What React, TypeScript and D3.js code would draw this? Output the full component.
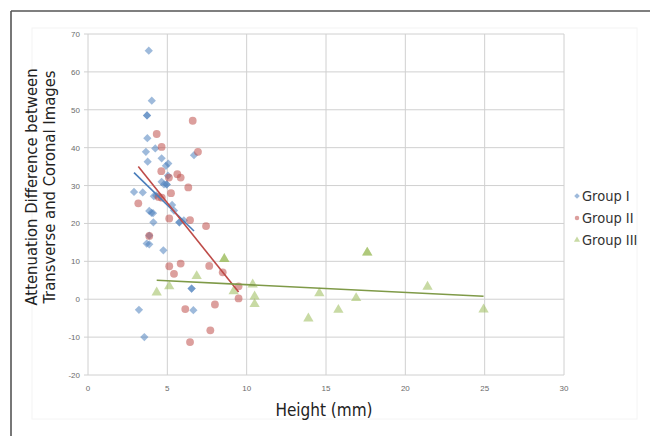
import React, { useEffect, useRef } from 'react'
import * as d3 from 'd3'

const xTicks = [0, 5, 10, 15, 20, 25, 30]
const yTicks = [-20, -10, 0, 10, 20, 30, 40, 50, 60, 70]
const groupNames = ['Group I', 'Group II', 'Group III']

// [height mm, attenuation difference]
const groupI = [
  [3.83, 65.6], [4.02, 52.4], [3.72, 48.5], [3.72, 48.5], [3.74, 42.5], [3.65, 38.9],
  [4.24, 39.8], [3.76, 36.3], [4.64, 37.2], [5.06, 35.8], [4.91, 35.2], [6.68, 38.0],
  [4.64, 31.0], [4.79, 30.3], [4.96, 30.3], [4.96, 30.3], [5.04, 32.6], [2.9, 28.3],
  [3.45, 28.2], [4.15, 27.2], [4.3, 27.4], [3.86, 23.3], [4.0, 22.8], [4.1, 22.7],
  [5.3, 24.9], [5.42, 23.4], [5.76, 20.3], [5.76, 20.3], [6.04, 20.8], [4.12, 20.3],
  [3.86, 16.8], [3.7, 14.7], [3.86, 14.5], [4.75, 12.9], [6.53, 2.8], [6.53, 2.8],
  [6.64, -2.9], [3.21, -2.8], [3.55, -10.0],
]
const groupII = [
  [4.33, 43.6], [4.64, 40.2], [4.62, 33.8], [5.1, 32.1], [5.63, 33.0], [5.84, 32.1],
  [6.32, 29.5], [6.6, 47.1], [6.93, 38.9], [5.23, 28.0], [4.45, 27.0], [4.65, 26.8],
  [3.17, 25.3], [5.12, 21.3], [6.43, 20.9], [7.44, 19.3], [3.86, 16.7], [5.12, 8.7],
  [5.84, 9.4], [5.42, 6.7], [7.64, 8.8], [8.49, 7.1], [9.49, 3.4], [9.49, 0.2],
  [8.0, -1.4], [6.13, -2.6], [7.71, -8.2], [6.43, -11.3],
]
const groupIII = [
  [4.33, 1.8], [5.12, 3.4], [6.85, 6.1], [8.59, 10.6], [8.59, 10.6], [9.18, 2.1],
  [10.38, 3.9], [10.5, 0.7], [10.5, -1.3], [13.89, -5.1], [14.58, 1.6], [15.78, -2.8],
  [16.9, 0.3], [17.6, 12.3], [17.6, 12.3], [21.4, 3.3], [24.93, -2.7],
]
// linear trend lines as shown in the chart
const trendI = [[2.9, 33.4], [6.68, 18.0]]
const trendII = [[3.17, 35.0], [9.49, 1.9]]
const trendIII = [[4.33, 5.0], [24.93, 0.8]]

const colors = ['#4f81bd', '#c0504d', '#9bbb59']
const lineColors = ['#4a7ebb', '#be4b48', '#7f9a48']

function ScatterChart() {
  const ref = useRef<SVGSVGElement>(null)

  useEffect(() => {
    const svg = d3.select(ref.current)
    svg.selectAll('*').remove()

    const left = 88, right = 564, top = 34, bottom = 375
    const x = d3.scaleLinear().domain([0, 30]).range([left, right])
    const y = d3.scaleLinear().domain([-20, 70]).range([bottom, top])

    // outer frame
    svg.append('line').attr('x1', 11).attr('y1', 11).attr('x2', 650).attr('y2', 11)
      .attr('stroke', '#555').attr('stroke-width', 1.6)
    svg.append('line').attr('x1', 11).attr('y1', 11).attr('x2', 11).attr('y2', 436)
      .attr('stroke', '#555').attr('stroke-width', 1.6)
    svg.append('rect').attr('x', 32).attr('y', 28).attr('width', 605).attr('height', 391)
      .attr('fill', 'none').attr('stroke', '#f4f4f4')

    const grid = svg.append('g')
    grid.selectAll('.gx').data(xTicks).enter().append('line')
      .attr('x1', d => x(d)).attr('x2', d => x(d)).attr('y1', top).attr('y2', bottom)
      .attr('stroke', '#d0d0d0').attr('stroke-width', 1)
    grid.selectAll('.gy').data(yTicks).enter().append('line')
      .attr('x1', left - 4).attr('x2', right).attr('y1', d => y(d)).attr('y2', d => y(d))
      .attr('stroke', '#d0d0d0').attr('stroke-width', 1)

    svg.append('g').selectAll('text').data(yTicks).enter().append('text')
      .attr('x', left - 8).attr('y', d => y(d) + 3)
      .attr('text-anchor', 'end').attr('font-size', 8)
      .attr('font-family', 'Liberation Sans, Arial, sans-serif').attr('fill', '#6b6b6b')
      .text(d => d)
    svg.append('g').selectAll('text').data(xTicks).enter().append('text')
      .attr('x', d => x(d)).attr('y', 391)
      .attr('text-anchor', 'middle').attr('font-size', 8)
      .attr('font-family', 'Liberation Sans, Arial, sans-serif').attr('fill', '#6b6b6b')
      .text(d => d)

    const titleFont = 'DejaVu Sans Condensed, DejaVu Sans, sans-serif'
    svg.append('text').attr('x', 324).attr('y', 416).attr('text-anchor', 'middle')
      .attr('font-size', 17).attr('font-family', titleFont).attr('fill', '#222')
      .text('Height (mm)')
    const yt = svg.append('text').attr('transform', 'translate(37,187) rotate(-90)')
      .attr('text-anchor', 'middle').attr('font-size', 16.5)
      .attr('font-family', titleFont).attr('fill', '#222')
    yt.append('tspan').attr('x', 0).attr('dy', 0).text('Attenuation Difference between')
    yt.append('tspan').attr('x', 0).attr('dy', 18).text('Transverse and Coronal Images')

    const diamond = d3.symbol().type(d3.symbolSquare).size(34)
    const circle = d3.symbol().type(d3.symbolCircle).size(48)
    const triangle = d3.symbol().type(d3.symbolTriangle).size(46)
    const symbols = [diamond, circle, triangle]
    const rot = ['rotate(45)', '', '']
    const groups = [groupI, groupII, groupIII]

    groups.forEach((data, i) => {
      svg.append('g').selectAll('path').data(data).enter().append('path')
        .attr('transform', d => 'translate(' + x(d[0]) + ',' + y(d[1]) + ') ' + rot[i])
        .attr('d', symbols[i]())
        .attr('fill', colors[i]).attr('fill-opacity', 0.55)
    })

    const line = d3.line<number[]>().x(d => x(d[0])).y(d => y(d[1]))
    ;[trendI, trendII, trendIII].forEach((t, i) => {
      svg.append('path').attr('d', line(t)).attr('fill', 'none')
        .attr('stroke', lineColors[i]).attr('stroke-width', 1.6)
    })

    // legend
    const legend = svg.append('g')
    groupNames.forEach((name, i) => {
      const ly = 196 + i * 22
      legend.append('path')
        .attr('transform', 'translate(577,' + ly + ') ' + rot[i])
        .attr('d', d3.symbol().type([d3.symbolSquare, d3.symbolCircle, d3.symbolTriangle][i]).size(16)())
        .attr('fill', colors[i]).attr('fill-opacity', 0.55)
      legend.append('text').attr('x', 582).attr('y', ly + 5)
        .attr('font-size', 14.5).attr('font-family', titleFont).attr('fill', '#333')
        .text(name)
    })
  }, [])

  return (
    <svg ref={ref} width={650} height={436}
      style={{ position: 'absolute', left: 0, top: 0, background: '#fff' }} />
  )
}

export default function App() {
  return <ScatterChart />
}
